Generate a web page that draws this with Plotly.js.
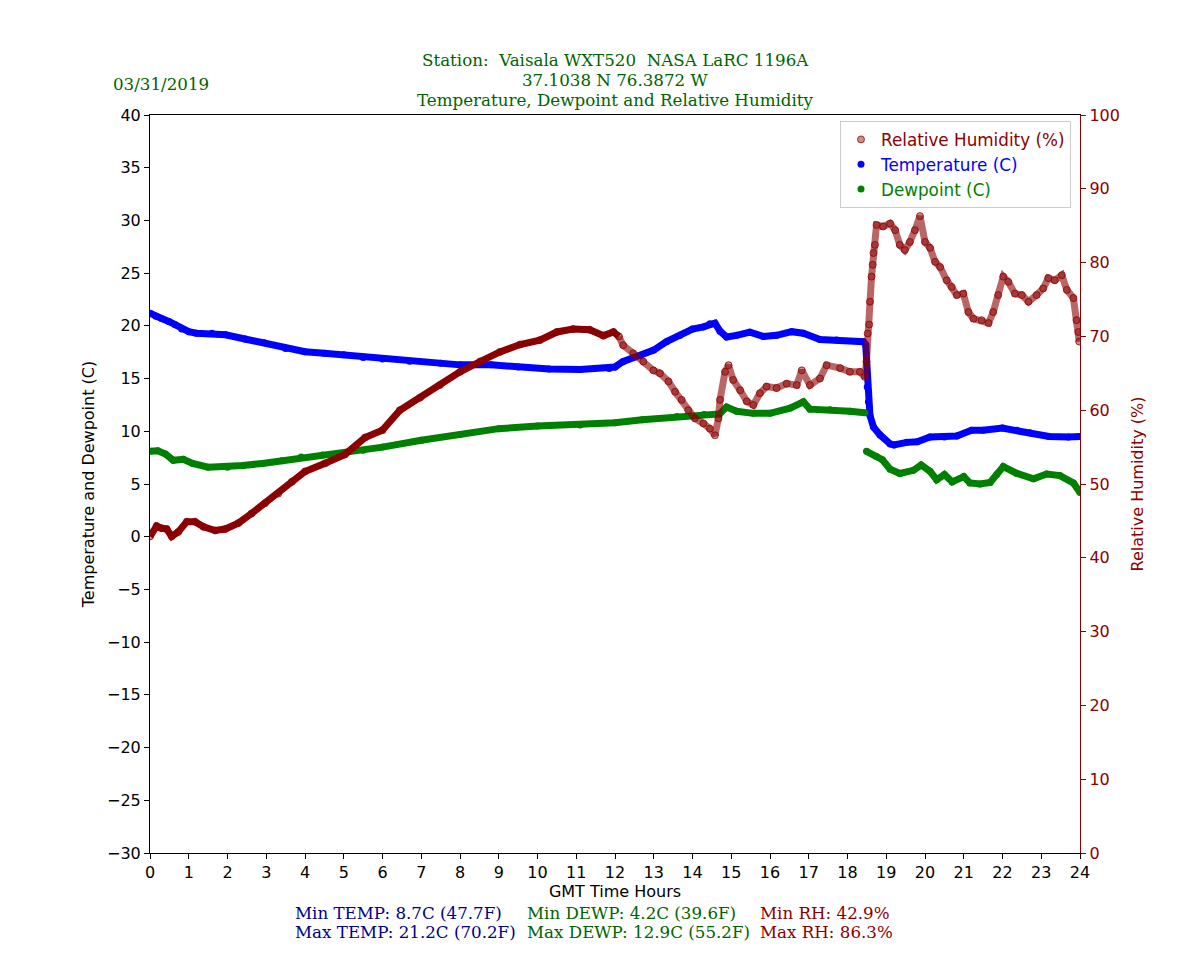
<!DOCTYPE html>
<html>
<head>
<meta charset="utf-8">
<script src="https://cdn.plot.ly/plotly-3.0.1.min.js"></script>
<style>html,body{margin:0;padding:0;background:#fff;}#chart{width:1200px;height:960px;}</style>
</head>
<body>
<div id="chart"></div>
<script>
// Temperature (C)
const hoursT = [0.0,0.15,0.3,0.5,0.65,0.82,1.0,1.2,1.6,1.95,2.45,2.95,3.5,4.0,4.5,5.0,5.5,6.0,6.7,7.5,8.0,8.8,9.5,10.3,11.1,11.85,12.0,12.2,12.65,13.0,13.33,13.68,14.0,14.28,14.45,14.58,14.71,14.88,15.14,15.48,15.83,16.17,16.56,16.86,17.29,17.72,18.41,18.47,18.49,18.51,18.54,18.58,18.67,18.84,19.1,19.2,19.53,19.8,20.13,20.5,20.82,21.2,21.5,22.0,22.37,22.7,23.2,23.7,24.0];
const tempC = [21.2,20.9,20.7,20.4,20.1,19.7,19.45,19.3,19.3,19.15,18.75,18.4,17.85,17.55,17.4,17.25,17.0,16.85,16.65,16.45,16.3,16.3,16.1,15.9,15.85,15.95,16.1,16.6,17.2,17.7,18.5,19.1,19.7,19.9,20.2,20.25,19.5,18.95,19.1,19.4,19.0,19.1,19.45,19.3,18.7,18.65,18.5,18.2,16.6,14.2,12.8,11.5,10.4,9.65,8.8,8.7,8.95,9.0,9.45,9.45,9.55,10.1,10.1,10.3,10.1,9.85,9.5,9.45,9.5];

// Dewpoint (C) — null marks the missing readings at the 18.5 h jump
const hoursD = [0.0,0.2,0.4,0.6,0.86,1.1,1.5,2.0,2.4,2.9,3.4,3.9,4.45,5.0,5.5,6.0,7.0,8.0,9.0,10.0,11.1,12.0,12.7,13.6,14.3,14.7,14.88,15.14,15.57,16.0,16.52,16.86,17.03,17.55,18.06,18.45,18.47,18.49,18.75,18.9,19.1,19.35,19.7,19.9,20.13,20.3,20.5,20.7,21.0,21.16,21.42,21.68,21.85,22.02,22.37,22.8,23.14,23.48,23.83,24.0];
const dewC = [8.1,8.15,7.85,7.25,7.35,6.95,6.6,6.6,6.75,6.95,7.2,7.55,7.75,7.95,8.2,8.5,9.15,9.7,10.25,10.5,10.6,10.8,11.1,11.4,11.6,11.65,12.3,11.9,11.7,11.7,12.2,12.8,12.1,12.05,11.9,11.75,null,8.1,7.6,7.3,6.4,6.0,6.3,6.8,6.2,5.4,5.9,5.2,5.7,5.1,5.0,5.15,5.9,6.65,6.0,5.5,5.95,5.8,5.1,4.2];

// Relative Humidity (%)
const hoursRH = [0.0,0.17,0.3,0.43,0.56,0.73,0.95,1.16,1.38,1.68,1.94,2.28,2.62,2.97,3.31,3.66,4.0,4.52,5.03,5.55,6.0,6.45,6.97,7.48,8.0,8.52,9.03,9.55,10.06,10.5,10.92,11.35,11.7,11.96,12.1,12.21,12.47,12.73,12.99,13.16,13.38,13.55,13.72,13.89,14.06,14.28,14.45,14.58,14.67,14.71,14.84,14.93,15.05,15.23,15.4,15.57,15.74,15.91,16.17,16.43,16.69,16.82,17.03,17.29,17.46,17.81,18.06,18.32,18.45,18.49,18.52,18.56,18.58,18.62,18.65,18.67,18.71,18.75,18.92,19.1,19.23,19.35,19.48,19.61,19.74,19.87,20.0,20.13,20.26,20.39,20.56,20.69,20.82,20.99,21.12,21.25,21.46,21.64,21.76,21.89,22.02,22.15,22.32,22.5,22.67,22.88,23.05,23.18,23.35,23.53,23.66,23.83,23.91,23.96,23.98];
const rh = [42.9,44.3,44.0,43.9,42.9,43.5,44.9,44.9,44.2,43.7,43.9,44.7,46.0,47.4,48.7,50.3,51.7,52.8,54.0,56.3,57.3,60.0,61.7,63.4,65.2,66.6,67.9,68.9,69.5,70.6,71.0,70.9,70.1,70.6,70.0,68.8,67.7,66.6,65.4,65.0,63.9,62.5,61.4,60.0,58.9,58.2,57.5,56.6,58.9,61.4,65.2,66.1,64.1,62.7,61.2,60.7,62.3,63.2,63.0,63.6,63.4,65.4,63.4,64.3,66.1,65.7,65.2,65.2,64.5,66.6,70.4,71.6,74.7,78.1,79.7,81.3,82.4,85.1,84.9,85.3,84.4,82.4,81.7,82.8,84.4,86.3,82.8,82.0,80.1,79.4,77.6,76.7,75.6,75.8,73.3,72.4,72.2,71.8,73.3,75.6,78.1,77.4,75.8,75.6,74.7,75.6,76.5,77.9,77.6,78.3,76.3,75.2,72.2,70.6,69.3];

const xTicks = [0,1,2,3,4,5,6,7,8,9,10,11,12,13,14,15,16,17,18,19,20,21,22,23,24];
const titleLines = ['Station:  Vaisala WXT520  NASA LaRC 1196A','37.1038 N 76.3872 W','Temperature, Dewpoint and Relative Humidity'];
const dateLabel = '03/31/2019';
const statsTemp = ['Min TEMP: 8.7C (47.7F)','Max TEMP: 21.2C (70.2F)'];
const statsDew = ['Min DEWP: 4.2C (39.6F)','Max DEWP: 12.9C (55.2F)'];
const statsRH = ['Min RH: 42.9%','Max RH: 86.3%'];

const RED = '#8b0000', BLUE = '#0000ff', GREEN = '#008000';

// split RH into the smooth morning part and the noisy afternoon part (style only)
const split = hoursRH.findIndex(h => h >= 12.1);
const rhSmoothX = hoursRH.slice(0, split + 1), rhSmoothY = rh.slice(0, split + 1);
const rhNoisyX = hoursRH.slice(split), rhNoisyY = rh.slice(split);

const traces = [
  {x: rhSmoothX, y: rhSmoothY, yaxis: 'y2', mode: 'lines', line: {color: RED, width: 7}, showlegend: false, hoverinfo: 'skip'},
  {x: rhNoisyX, y: rhNoisyY, yaxis: 'y2', mode: 'lines', line: {color: 'rgba(139,0,0,0.6)', width: 7}, showlegend: false, hoverinfo: 'skip'},
  {x: hoursRH, y: rh, yaxis: 'y2', mode: 'markers', name: '<span style="color:#8b0000">Relative Humidity (%)</span>',
   marker: {size: 7, color: 'rgba(139,0,0,0.45)', line: {color: 'rgba(139,0,0,0.75)', width: 1}}},
  {x: hoursT, y: tempC, mode: 'lines', line: {color: BLUE, width: 7}, showlegend: false, hoverinfo: 'skip'},
  {x: hoursT, y: tempC, mode: 'markers', name: '<span style="color:#0000ff">Temperature (C)</span>',
   marker: {size: 7, color: BLUE}},
  {x: hoursD, y: dewC, mode: 'lines', connectgaps: false, line: {color: GREEN, width: 7}, showlegend: false, hoverinfo: 'skip'},
  {x: hoursD, y: dewC, mode: 'markers', name: '<span style="color:#008000">Dewpoint (C)</span>',
   marker: {size: 7, color: GREEN}}
];

const L = 150, R = 1080, T = 115, B = 853;
const px = v => (v - L) / (R - L);
const py = v => (B - v) / (B - T);
const serif = '"DejaVu Serif", "Liberation Serif", serif';
const sans = '"DejaVu Sans", sans-serif';

const ann = [];
titleLines.forEach((t, i) => ann.push({text: t, xref: 'paper', yref: 'paper', x: 0.5, y: py(60 + 20 * i), xanchor: 'center', yanchor: 'middle', showarrow: false, font: {family: serif, size: 16.7, color: '#006400'}}));
ann.push({text: dateLabel, xref: 'paper', yref: 'paper', x: px(111), y: py(84), xanchor: 'left', yanchor: 'middle', showarrow: false, font: {family: serif, size: 16.7, color: '#006400'}});
[[statsTemp, 293, '#00008b'], [statsDew, 525, '#006400'], [statsRH, 758, '#8b0000']].forEach(([arr, x0, c]) => {
  arr.forEach((t, i) => ann.push({text: t, xref: 'paper', yref: 'paper', x: px(x0), y: py(913 + 19 * i), xanchor: 'left', yanchor: 'middle', showarrow: false, font: {family: serif, size: 16.7, color: c}}));
});

const layout = {
  width: 1200, height: 960,
  margin: {l: L, r: 1200 - R, t: T, b: 960 - B, pad: 0},
  paper_bgcolor: '#fff', plot_bgcolor: '#fff',
  font: {family: sans, size: 16, color: '#000'},
  showlegend: true,
  legend: {x: px(1071), y: py(121), xanchor: 'right', yanchor: 'top', bgcolor: 'rgba(255,255,255,0.9)', bordercolor: '#cccccc', borderwidth: 1, font: {family: sans, size: 16.8}},
  xaxis: {range: [0, 24], tickvals: xTicks, ticks: 'outside', ticklen: 5, tickcolor: '#000', showline: true, linecolor: '#000', linewidth: 1, mirror: true, showgrid: false, zeroline: false,
    tickfont: {family: sans, size: 16, color: '#000'},
    title: {text: 'GMT Time Hours', font: {family: sans, size: 16, color: '#000'}, standoff: 3}},
  yaxis: {range: [-30, 40], dtick: 5, tick0: -30, ticks: 'outside', ticklen: 5, tickcolor: '#000', showline: true, linecolor: '#000', linewidth: 1, showgrid: false, zeroline: false,
    tickfont: {family: sans, size: 16, color: '#000'},
    title: {text: 'Temperature and Dewpoint (C)', font: {family: sans, size: 16, color: '#000'}, standoff: 8}},
  yaxis2: {range: [0, 100], dtick: 10, tick0: 0, overlaying: 'y', side: 'right', anchor: 'x', ticks: 'outside', ticklen: 5, tickcolor: RED, showline: true, linecolor: RED, linewidth: 1.2, showgrid: false, zeroline: false,
    tickfont: {family: sans, size: 16, color: RED},
    title: {text: 'Relative Humidity (%)', font: {family: sans, size: 16, color: RED}, standoff: 12}},
  annotations: ann
};

Plotly.newPlot('chart', traces, layout, {displayModeBar: false, staticPlot: true});
</script>
</body>
</html>
